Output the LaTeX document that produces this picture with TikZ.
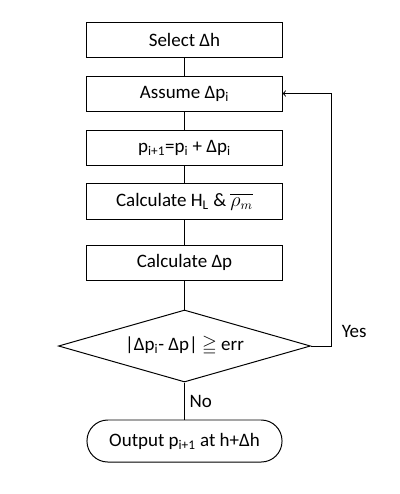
\documentclass[tikz,border=0pt]{standalone}
\usepackage{amsmath,amssymb}
\usepackage{fontspec}
\setmainfont{Carlito}
\usepackage{tikz}
\usetikzlibrary{arrows,positioning,calc,shapes.geometric}

\begin{document}
\begin{tikzpicture}[x=0.025cm,y=-0.025cm,node distance=0.45cm,
every node/.style={font=\fontsize{13.5}{16}\selectfont},
blk/.style={line width=0.7pt,rectangle,draw,minimum width=4.875cm,minimum height=0.875cm,inner sep=0pt},
dec/.style={line width=0.7pt,diamond,draw,aspect=3.5,minimum width=6.3cm,minimum height=1.8cm,inner sep=0pt},
term/.style={line width=0.7pt,rectangle,rounded corners=0.52cm,draw,minimum width=4.875cm,minimum height=1.05cm,inner sep=0pt},
lnk/.style={line width=0.7pt}]
\useasboundingbox (0,0) rectangle (400,494);

\node[blk] (select) at (184.5,39.5) {Select Δh};
\node[blk, below=of select] (assume) {Assume Δp\textsubscript{i}};
\node[blk, below=of assume] (update) {p\textsubscript{i+1}=p\textsubscript{i} + Δp\textsubscript{i}};
\node[blk, below=of update] (calchl) {Calculate H\textsubscript{L} \& $\overline{\rho_m}$};
\node[blk, below=0.625cm of calchl] (calcdp) {Calculate Δp};
\node[dec, below=0.725cm of calcdp] (check) {|Δp\textsubscript{i}- Δp| $\geqq$ err};
\node[term, below=0.925cm of check] (out) {Output p\textsubscript{i+1} at h+Δh};

\draw[lnk] (select) -- (assume);
\draw[lnk] (assume) -- (update);
\draw[lnk] (update) -- (calchl);
\draw[lnk] (calchl) -- (calcdp);
\draw[lnk] (calcdp) -- (check);
\draw[lnk] (check) -- node[right]{No} (out);
\draw[lnk,->] (check.east) -- ++(20,0) node[above right,xshift=4pt,yshift=2pt]{Yes} |- (assume.east);
\end{tikzpicture}
\end{document}
